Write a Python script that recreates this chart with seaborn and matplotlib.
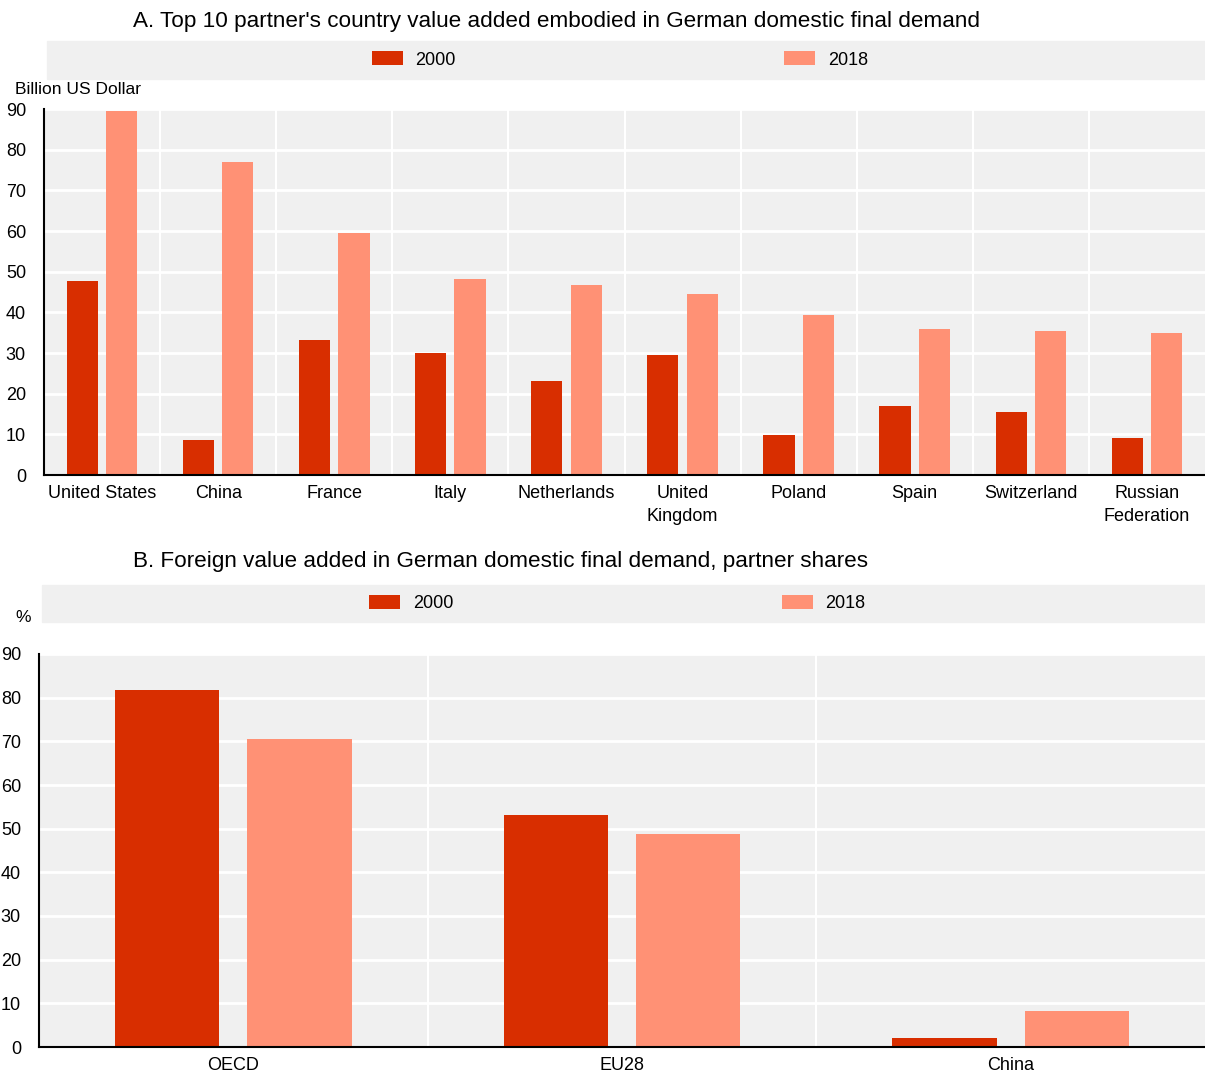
import numpy as np
import pandas as pd
import seaborn as sns
import matplotlib.pyplot as plt
from matplotlib.patches import Rectangle

# dados
paises = ["United States", "China", "France", "Italy", "Netherlands", "United\nKingdom",
          "Poland", "Spain", "Switzerland", "Russian\nFederation"]
va_2000 = [47.7, 8.7, 33.2, 30.0, 23.1, 29.6, 9.8, 17.0, 15.4, 9.0]
va_2018 = [89.5, 77.0, 59.6, 48.2, 46.7, 44.5, 39.3, 36.0, 35.4, 35.0]

parceiros = ["OECD", "EU28", "China"]
share_2000 = [81.7, 53.1, 2.1]
share_2018 = [70.5, 48.8, 8.2]

anos = ["2000", "2018"]
cores = {"2000": "#d82e00", "2018": "#ff9175"}
fundo = "#f0f0f0"

W, H = 1205, 1074

sns.set_style("white")
plt.rcParams['font.family'] = ['Liberation Sans', 'DejaVu Sans']
plt.rcParams['text.color'] = 'black'
plt.rcParams['xtick.color'] = 'black'
plt.rcParams['ytick.color'] = 'black'


def montar(categorias, v1, v2):
    return pd.DataFrame({
        "cat": categorias * 2,
        "ano": [anos[0]] * len(categorias) + [anos[1]] * len(categorias),
        "valor": list(v1) + list(v2),
    })


def painel(fig, ret, dados, titulo, ty, unidade, uy, faixa):
    ax = fig.add_axes(ret)
    ax.set_facecolor(fundo)
    sns.barplot(data=dados, x="cat", y="valor", hue="ano", palette=cores,
                width=0.68, gap=0.21, saturation=1, linewidth=0, ax=ax, legend=True)
    n = dados["cat"].nunique()
    ax.set_xlim(-0.5, n - 0.5)
    ax.set_ylim(0, 90)
    ax.set_yticks(range(0, 91, 10))
    ax.set_xticks(np.arange(0.5, n - 0.5, 1), minor=True)
    ax.grid(axis="y", color="white", lw=2)
    ax.grid(axis="x", which="minor", color="white", lw=1.5)
    ax.set_axisbelow(True)
    ax.tick_params(axis="y", direction="in", length=5, width=1.5, pad=13, labelsize=13)
    ax.tick_params(axis="x", which="major", length=0, pad=7, labelsize=13)
    ax.tick_params(axis="x", which="minor", direction="in", length=5, width=1.5)
    for t in ax.get_xticklabels():
        t.set_linespacing(1.45)
    for s in ["top", "right"]:
        ax.spines[s].set_visible(False)
    for s in ["left", "bottom"]:
        ax.spines[s].set_linewidth(1.5)
        ax.spines[s].set_color("black")
    ax.set_xlabel("")
    ax.set_ylabel("")

    # faixa cinza da legenda
    x0, y0, x1, y1 = faixa
    fig.patches.append(Rectangle((x0 / W, 1 - y1 / H), (x1 - x0) / W, (y1 - y0) / H,
                                 transform=fig.transFigure, color=fundo, zorder=-1))
    h, l = ax.get_legend_handles_labels()
    ax.legend(h, l, ncol=2, frameon=False, fontsize=13, loc="center",
              bbox_to_anchor=((x0 + x1) / 2 / W - 0.005, 1 - (y0 + y1) / 2 / H),
              bbox_transform=fig.transFigure, handlelength=1.72, handleheight=0.8,
              handletextpad=0.7, columnspacing=18.2)

    fig.text(133 / W, 1 - ty / H, titulo, fontsize=16.2, ha="left", va="center")
    fig.text(15 / W, 1 - uy / H, unidade, fontsize=12.5, ha="left", va="center")
    return ax


fig = plt.figure(figsize=(W / 100, H / 100), dpi=100)

painel(fig, [44 / W, 1 - 475 / H, 1 - 44 / W, (475 - 109) / H],
       montar(paises, va_2000, va_2018),
       "A. Top 10 partner's country value added embodied in German domestic final demand",
       22, "Billion US Dollar", 89, (47, 41, 1205, 79))

painel(fig, [39 / W, 1 - 1047 / H, 1 - 39 / W, (1047 - 654) / H],
       montar(parceiros, share_2000, share_2018),
       "B. Foreign value added in German domestic final demand, partner shares",
       561, "%", 617, (42, 585, 1205, 622))

plt.savefig("out.png", dpi=100)
